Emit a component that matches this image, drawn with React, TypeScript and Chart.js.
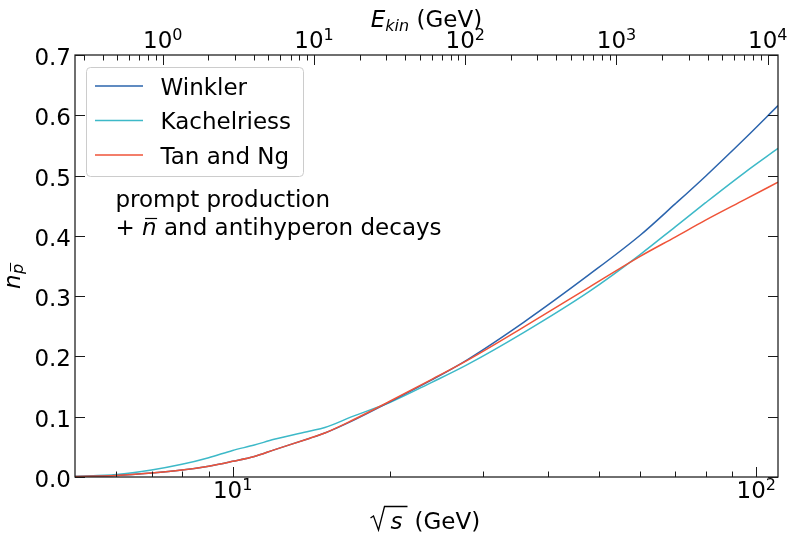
import { useEffect, useRef } from "react";
import { Chart, registerables } from "chart.js";

Chart.register(...registerables);

// centre-of-mass energy sqrt(s) in GeV
const sqrtS = [5, 6, 7, 8, 9, 10, 11, 12, 14, 15, 17, 20, 24, 28, 36, 48, 60, 70, 80, 95, 110];

// antiproton multiplicity for each parametrisation
const winkler = [0.001, 0.0025, 0.0065, 0.0115, 0.018, 0.026, 0.034, 0.045, 0.064, 0.073, 0.094, 0.125, 0.161, 0.194, 0.257, 0.336, 0.401, 0.453, 0.499, 0.561, 0.616];
const kachelriess = [0.001, 0.004, 0.0115, 0.021, 0.032, 0.044, 0.053, 0.0625, 0.076, 0.082, 0.101, 0.124, 0.157, 0.186, 0.24, 0.308, 0.369, 0.415, 0.455, 0.505, 0.545];
const tanNg = [0.001, 0.0025, 0.0065, 0.0115, 0.018, 0.026, 0.034, 0.045, 0.064, 0.073, 0.095, 0.126, 0.162, 0.193, 0.249, 0.315, 0.366, 0.398, 0.426, 0.46, 0.489];

const seriesLabels = ["Winkler", "Kachelriess", "Tan and Ng"];
const seriesColors = ["#2b64ad", "#3db9c8", "#ef5338"];

// axis ticks
const yTickValues = [0, 0.1, 0.2, 0.3, 0.4, 0.5, 0.6, 0.7];
const yTickLabels = ["0.0", "0.1", "0.2", "0.3", "0.4", "0.5", "0.6", "0.7"];
const sqrtSMajorTicks = [10, 100];
const sqrtSMajorExp = ["1", "2"];
const sqrtSMinorTicks = [6, 7, 8, 9, 20, 30, 40, 50, 60, 70, 80, 90];
const ekinMajorTicks = [1, 10, 100, 1000, 10000];
const ekinMajorExp = ["0", "1", "2", "3", "4"];
const ekinMinorTicks = [
  0.3, 0.4, 0.5, 0.6, 0.7, 0.8, 0.9,
  2, 3, 4, 5, 6, 7, 8, 9,
  20, 30, 40, 50, 60, 70, 80, 90,
  200, 300, 400, 500, 600, 700, 800, 900,
  2000, 3000, 4000, 5000, 6000, 7000, 8000, 9000,
];

const FONT_FAMILY = '"DejaVu Sans", sans-serif';
const MAIN = 23;
const SMALL = 16;
const TEXT = "#000000";
const INK = "#1a1a1a";

function font(size: number, italic = false) {
  return `${italic ? "italic " : ""}${size}px ${FONT_FAMILY}`;
}

function drawPower(ctx: CanvasRenderingContext2D, exp: string, cx: number, baseline: number) {
  ctx.font = font(MAIN);
  const w1 = ctx.measureText("10").width;
  ctx.font = font(SMALL);
  const w2 = ctx.measureText(exp).width;
  const start = cx - (w1 + w2) / 2;
  ctx.textAlign = "left";
  ctx.textBaseline = "alphabetic";
  ctx.font = font(MAIN);
  ctx.fillText("10", start, baseline);
  ctx.font = font(SMALL);
  ctx.fillText(exp, start + w1, baseline - 8.5);
}

const decorations = {
  id: "decorations",
  afterDatasetsDraw(chart: any) {
    const ctx: CanvasRenderingContext2D = chart.ctx;
    const { left, right, top, bottom } = chart.chartArea;
    const xs = chart.scales.x;
    const xt = chart.scales.xTop;
    const ys = chart.scales.y;
    const MAJ = 10;
    const MIN = 5.5;

    ctx.save();
    ctx.strokeStyle = INK;
    ctx.fillStyle = TEXT;
    ctx.lineWidth = 1;

    // inward tick marks on all four sides
    ctx.beginPath();
    sqrtSMajorTicks.forEach((v) => {
      const p = Math.round(xs.getPixelForValue(v)) + 0.5;
      ctx.moveTo(p, bottom);
      ctx.lineTo(p, bottom - MAJ);
    });
    sqrtSMinorTicks.forEach((v) => {
      const p = Math.round(xs.getPixelForValue(v)) + 0.5;
      ctx.moveTo(p, bottom);
      ctx.lineTo(p, bottom - MIN);
    });
    ekinMajorTicks.forEach((v) => {
      const p = Math.round(xt.getPixelForValue(v)) + 0.5;
      ctx.moveTo(p, top);
      ctx.lineTo(p, top + MAJ);
    });
    ekinMinorTicks.forEach((v) => {
      const p = Math.round(xt.getPixelForValue(v)) + 0.5;
      ctx.moveTo(p, top);
      ctx.lineTo(p, top + MIN);
    });
    yTickValues.forEach((v) => {
      const p = Math.round(ys.getPixelForValue(v)) + 0.5;
      ctx.moveTo(left, p);
      ctx.lineTo(left + MAJ, p);
      ctx.moveTo(right, p);
      ctx.lineTo(right - MAJ, p);
    });
    ctx.stroke();

    // frame
    ctx.lineWidth = 1.25;
    ctx.strokeRect(left, top, right - left, bottom - top);

    // tick labels
    ctx.textAlign = "right";
    ctx.textBaseline = "alphabetic";
    ctx.font = font(MAIN);
    yTickValues.forEach((v, i) => {
      ctx.fillText(yTickLabels[i], left - 4, ys.getPixelForValue(v) + 10);
    });
    sqrtSMajorTicks.forEach((v, i) => drawPower(ctx, sqrtSMajorExp[i], xs.getPixelForValue(v), bottom + 21));
    ekinMajorTicks.forEach((v, i) => drawPower(ctx, ekinMajorExp[i], xt.getPixelForValue(v), top - 7));

    const cx = (left + right) / 2;

    // top axis title: E_kin (GeV)
    {
      ctx.textAlign = "left";
      ctx.font = font(MAIN, true);
      const wE = ctx.measureText("E").width;
      ctx.font = font(SMALL, true);
      const wKin = ctx.measureText("kin").width;
      ctx.font = font(MAIN);
      const wSp = ctx.measureText(" ").width;
      const wUnit = ctx.measureText("(GeV)").width;
      let x0 = cx - (wE + wKin + wSp + wUnit) / 2;
      const base = 26.5;
      ctx.font = font(MAIN, true);
      ctx.fillText("E", x0, base);
      x0 += wE;
      ctx.font = font(SMALL, true);
      ctx.fillText("kin", x0, base + 4);
      x0 += wKin + wSp;
      ctx.font = font(MAIN);
      ctx.fillText("(GeV)", x0, base);
    }

    // bottom axis title: sqrt(s) (GeV)
    {
      const base = 529;
      const x0 = cx - 57;
      ctx.strokeStyle = TEXT;
      ctx.lineWidth = 1.3;
      ctx.beginPath();
      ctx.moveTo(x0 + 1, base - 11);
      ctx.lineTo(x0 + 4, base - 13);
      ctx.lineTo(x0 + 9, base + 1);
      ctx.lineTo(x0 + 15, base - 22.5);
      ctx.lineTo(x0 + 38, base - 22.5);
      ctx.stroke();
      ctx.textAlign = "left";
      ctx.font = font(MAIN, true);
      ctx.fillText("s", x0 + 21, base);
      ctx.font = font(MAIN);
      ctx.fillText("(GeV)", x0 + 45, base);
    }

    // y axis title: n with antiproton subscript
    {
      ctx.save();
      ctx.translate(20, 289);
      ctx.rotate(-Math.PI / 2);
      ctx.textAlign = "left";
      ctx.font = font(MAIN, true);
      const wN = ctx.measureText("n").width;
      ctx.fillText("n", 0, 0);
      ctx.font = font(SMALL, true);
      const wP = ctx.measureText("p").width;
      ctx.fillText("p", wN + 0.5, 3);
      ctx.strokeStyle = TEXT;
      ctx.lineWidth = 1;
      ctx.beginPath();
      ctx.moveTo(wN + 3, -9.5);
      ctx.lineTo(wN + wP + 1.5, -9.5);
      ctx.stroke();
      ctx.restore();
    }

    // legend
    {
      const bx = 86.5, by = 67.5, bw = 217, bh = 109;
      ctx.beginPath();
      ctx.roundRect(bx, by, bw, bh, 4);
      ctx.fillStyle = "rgba(255,255,255,0.8)";
      ctx.fill();
      ctx.strokeStyle = "#cccccc";
      ctx.lineWidth = 1;
      ctx.stroke();
      const rows = [86, 120.5, 155];
      chart.data.datasets.forEach((ds: any, i: number) => {
        const yy = rows[i];
        ctx.strokeStyle = ds.borderColor;
        ctx.lineWidth = 1.5;
        ctx.beginPath();
        ctx.moveTo(95, yy);
        ctx.lineTo(143, yy);
        ctx.stroke();
        ctx.fillStyle = TEXT;
        ctx.font = font(MAIN);
        ctx.textAlign = "left";
        ctx.fillText(ds.label, 160.5, yy + 8.8);
      });
    }

    // annotation
    {
      ctx.fillStyle = TEXT;
      ctx.strokeStyle = TEXT;
      ctx.textAlign = "left";
      ctx.font = font(MAIN);
      ctx.fillText("prompt production", 115.5, 206.5);
      const base2 = 235;
      let x0 = 115.5;
      ctx.fillText("+ ", x0, base2);
      x0 += ctx.measureText("+ ").width;
      ctx.font = font(MAIN, true);
      const wN = ctx.measureText("n").width;
      ctx.fillText("n", x0, base2);
      ctx.lineWidth = 1.2;
      ctx.beginPath();
      ctx.moveTo(x0 + 3, base2 - 16.5);
      ctx.lineTo(x0 + 15, base2 - 16.5);
      ctx.stroke();
      x0 += wN;
      ctx.font = font(MAIN);
      ctx.fillText(" and antihyperon decays", x0, base2);
    }

    ctx.restore();
  },
};

export default function App() {
  const canvasRef = useRef<HTMLCanvasElement | null>(null);

  useEffect(() => {
    const canvas = canvasRef.current;
    if (!canvas) return;
    const seriesValues = [winkler, kachelriess, tanNg];
    const drawOrder = [1, 2, 0];
    const chart = new Chart(canvas, {
      type: "line",
      data: {
        datasets: seriesValues.map((vals, i) => ({
          label: seriesLabels[i],
          data: sqrtS.map((s, j) => ({ x: s, y: vals[j] })),
          borderColor: seriesColors[i],
          backgroundColor: seriesColors[i],
          borderWidth: 1.5,
          pointRadius: 0,
          fill: false,
          cubicInterpolationMode: "monotone" as const,
          order: drawOrder[i],
        })),
      },
      options: {
        responsive: false,
        animation: false,
        layout: { padding: { left: 75, right: 9, top: 55, bottom: 60 } },
        plugins: { legend: { display: false }, tooltip: { enabled: false } },
        scales: {
          x: { type: "logarithmic", min: 5, max: 110, display: false },
          xTop: {
            type: "logarithmic",
            position: "top",
            min: Math.pow(10, -0.58),
            max: Math.pow(10, 4.068),
            display: false,
          },
          y: { type: "linear", min: 0, max: 0.7, display: false },
        },
      },
      plugins: [decorations],
    });
    return () => chart.destroy();
  }, []);

  return (
    <div style={{ position: "absolute", left: 0, top: 0, width: 787, height: 537, background: "#fff" }}>
      <canvas ref={canvasRef} width={787} height={537} style={{ display: "block" }} />
    </div>
  );
}
